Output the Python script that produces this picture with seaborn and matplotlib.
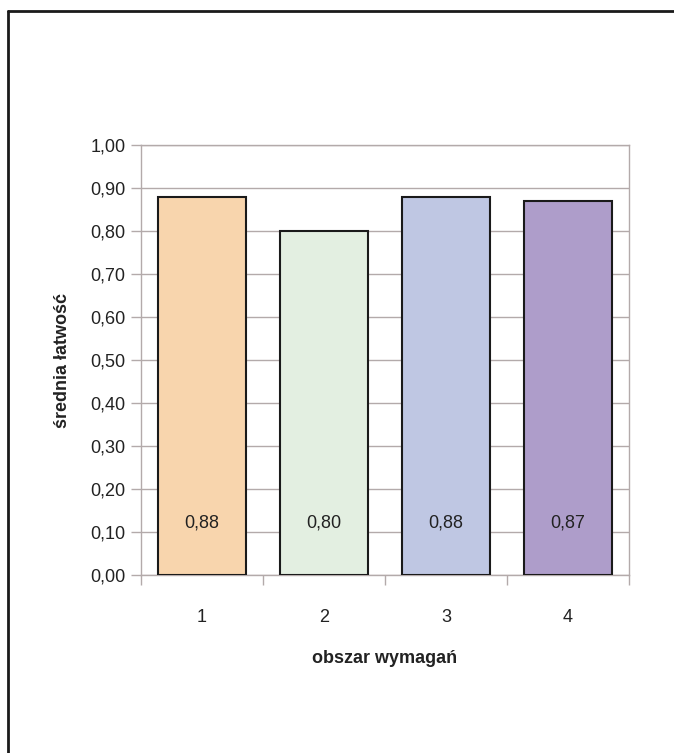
import numpy as np
import pandas as pd
from matplotlib import pyplot as plt
from matplotlib.lines import Line2D
import seaborn as sns

sns.set_style("white")
plt.rcParams['font.family'] = ['Liberation Sans', 'DejaVu Sans']

obszary = ["1", "2", "3", "4"]
latwosc = [0.88, 0.80, 0.88, 0.87]
etykiety = ["0,88", "0,80", "0,88", "0,87"]
kolory = ["#f8d5ad", "#e3efe1", "#bfc7e3", "#ae9dca"]

df = pd.DataFrame({"obszar": obszary, "latwosc": latwosc})

fig = plt.figure(figsize=(6.74, 7.53), dpi=100)
ax = fig.add_axes([141/674, 1 - 575/753, 488/674, 430/753])

sns.barplot(data=df, x="obszar", y="latwosc", hue="obszar", palette=kolory,
            legend=False, width=0.72, edgecolor="#1a1a1a", linewidth=1.5,
            saturation=1, ax=ax, zorder=3)

gridc = "#b3aaaa"
ax.set_ylim(0, 1)
ax.set_xlim(-0.5, 3.5)
yt = np.arange(0, 1.01, 0.1)
ax.set_yticks(yt)
ax.set_yticklabels([f"{v:.2f}".replace(".", ",") for v in yt])
ax.yaxis.grid(True, color=gridc, linewidth=1, zorder=0)
ax.set_axisbelow(True)
for s in ax.spines.values():
    s.set_color(gridc)
    s.set_linewidth(1)

# x ticks between categories
ax.set_xticks(np.arange(-0.5, 4, 1), minor=True)
ax.set_xticks(range(4))
ax.set_xticklabels(obszary)
ax.tick_params(axis="x", which="major", bottom=False, labelsize=13, pad=21,
               labelcolor="#222222")
ax.tick_params(axis="x", which="minor", bottom=True, length=7, color=gridc, width=1)
ax.tick_params(axis="y", left=True, length=7, color=gridc, width=1, labelsize=13,
               pad=4, labelcolor="#222222")

for i, t in enumerate(etykiety):
    ax.text(i, 0.12, t, ha="center", va="center", fontsize=13, color="#222222", zorder=4)

ax.set_xlabel("obszar wymagań", fontsize=13, fontweight="bold", labelpad=17,
              color="#222222")
ax.set_ylabel("średnia łatwość", fontsize=13, fontweight="bold", labelpad=14,
              color="#222222")

fig.add_artist(Line2D([8/674, 1], [1 - 11/753, 1 - 11/753], color="#1a1a1a", linewidth=2))
fig.add_artist(Line2D([8/674, 8/674], [0, 1 - 11/753], color="#1a1a1a", linewidth=2))

plt.savefig("out.png", dpi=100)
